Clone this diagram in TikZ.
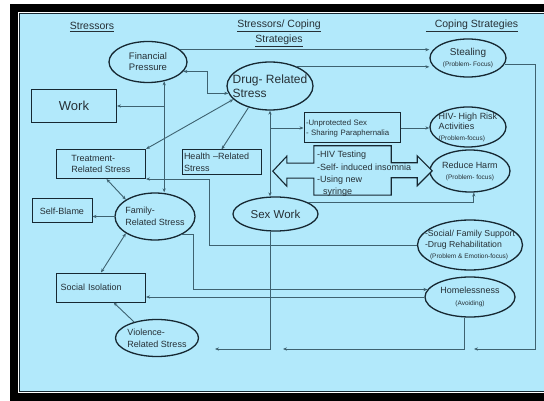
\documentclass[tikz,border=0pt]{standalone}
\usepackage{fontspec}
\setmainfont{Liberation Sans}
\usepackage{tikz}
\usetikzlibrary{calc,positioning}
\usetikzlibrary{arrows.meta}
\usetikzlibrary{shapes.geometric}
\definecolor{panel}{RGB}{178,233,251}
\definecolor{wire}{RGB}{62,98,112}
\definecolor{rim}{RGB}{22,40,50}
\definecolor{ink}{RGB}{38,48,54}
\newcommand{\fsz}[2]{\fontsize{#1}{#2}\selectfont}
\newcommand{\focus}[1]{{\fsz{6.5}{8}#1}}
\tikzset{
  % node styles (ellipses for stressors and strategies, boxes)
  % negative inner sep: the ellipse size comes from minimum width/height only
  oval/.style={ellipse,draw=rim,line width=1.3pt,fill=panel,text=ink,inner sep=-30pt,align=center},
  boxed/.style={rectangle,draw=rim,line width=1pt,fill=panel,text=ink,inner sep=2pt,align=center},
  header/.style={text=ink,inner sep=0pt,align=center,font=\fsz{10.5}{15}},
  void/.style={inner sep=0pt,minimum size=0pt},
  % connectors
  conn/.style={draw=wire,line width=0.9pt},
  dblarrow/.style={draw=rim,line width=1.1pt,fill=panel,line join=miter},
}

\begin{document}
\begin{tikzpicture}[x=1pt,y=-1pt,>={Stealth[length=4pt,width=3.2pt]}]
  \useasboundingbox (0,0) rectangle (544,401);
  \clip (0,0) rectangle (544,401);
  % frame
  \fill[white] (0,0) rectangle (544,401);
  \fill[black] (10,4) rectangle (560,410);
  \fill[white] (17.6,12) rectangle (560,393.2);
  \fill[rim] (18.8,13.4) rectangle (560,391.8);
  \fill[panel] (19.8,14.4) rectangle (560,390.8);

  \node[header] (hstress) at (92,27) {\underline{Stressors}};
  \node[header] (hboth) at (279,33.5) {\underline{Stressors/ Coping}\\\underline{Strategies}};
  \node[header] (hcope) at (472,26) {\underline{\hspace{9pt}Coping Strategies}};

  \node[oval,minimum width=78pt,minimum height=41pt,align=left,font=\fsz{9.5}{11}] (fin) at (148,62) {Financial\\Pressure};
  \node[oval,minimum width=86pt,minimum height=48pt,align=left,font=\fsz{12}{14.5}] (drug) at (270,86) {Drug- Related\\Stress};
  \node[boxed,minimum width=85pt,minimum height=33pt,font=\fsz{13}{15}] (work) at (74,106) {Work};
  \node[boxed,minimum width=89pt,minimum height=29pt,align=left,font=\fsz{9}{11.5}] (treat) at (101,164) {Treatment-\\Related Stress};
  \node[boxed,minimum width=79pt,minimum height=25pt,text width=75pt,align=left,inner sep=1pt,font=\fsz{9}{12}] (health) at (221.5,162.5) {Health --Related\\Stress};
  \node[boxed,minimum width=60pt,minimum height=24pt,font=\fsz{9}{11}] (selfb) at (62,211) {Self-Blame};
  \node[oval,minimum width=80pt,minimum height=47pt,align=left,font=\fsz{9}{12}] (family) at (155,216.5) {Family-\\Related Stress};
  \node[oval,minimum width=85pt,minimum height=34pt,font=\fsz{11.5}{13}] (sexw) at (275.5,214) {Sex Work};
  \node[boxed,minimum width=89pt,minimum height=29pt,text width=81pt,align=left,inner sep=4pt,font=\fsz{9}{11}] (isol) at (101,287.5) {Social Isolation};
  \node[oval,minimum width=83pt,minimum height=37pt,align=left,font=\fsz{9}{12}] (violence) at (157,338) {Violence-\\Related Stress};
  \node[boxed,minimum width=96pt,minimum height=30pt,text width=92pt,align=left,inner sep=1pt,font=\fsz{7.8}{10}] (unprot) at (352,128) {-Unprotected Sex\\- Sharing Paraphernalia};

  \node[oval,minimum width=76pt,minimum height=38pt,font=\fsz{10}{11}] (stealing) at (468,58) {Stealing\\\focus{(Problem- Focus)}};
  \node[oval,minimum width=76pt,minimum height=40pt,align=left,font=\fsz{9}{10.5}] (hivrisk) at (468,127) {HIV- High Risk\\Activities\\\focus{(Problem-focus)}};
  \node[oval,minimum width=80pt,minimum height=42pt,font=\fsz{9}{11}] (reduce) at (470,171) {Reduce Harm\\\focus{(Problem- focus)}};
  \node[oval,minimum width=105pt,minimum height=50pt,align=left,font=\fsz{8.7}{11}] (support) at (470,245) {-Social/ Family Support\\-Drug Rehabilitation\\\hspace{5pt}\focus{(Problem \& Emotion-focus)}};
  \node[oval,minimum width=90pt,minimum height=40pt,font=\fsz{9}{11.5}] (homeless) at (470,297) {Homelessness\\\focus{(Avoiding)}};

  \coordinate (rcorner) at (535,349);
  \coordinate (rend) at (474,349);
  \coordinate (hend) at (283,349);
  \coordinate (send) at (215,349);

  \draw[conn,->] (fin.21) -- (fin.21 -| stealing.west);
  \draw[conn,->] (drug.35) -- (drug.35 -| stealing.west);
  \draw[conn,->] (stealing.-10) -| (rcorner) -- (rend);
  \draw[conn,->] (homeless.-104) |- (hend);
  \draw[conn,->] (sexw.south -| drug.south) |- (send);
  \draw[conn,<->] (drug.south) -- (drug.south |- sexw.north);
  \draw[conn,->] (drug.south |- unprot.west) -- (unprot.west);
  \draw[conn,->] (unprot.east) -- (unprot.east -| hivrisk.west);
  \draw[conn,<->] (fin.-15) -- ++(24,0) |- (drug.190);
  \draw[conn,<->] (fin.-50) -- (fin.-50 |- family.north);
  \draw[conn,->] (fin.-50 |- work.east) -- (work.east);
  \draw[conn,<->] (treat.north east) -- (drug.200);
  \draw[conn,->] (drug.225) -- (health.north);
  \draw[conn,<->] (treat.-70) -- (family.150);
  \draw[conn,->] (family.west) -- (family.west -| selfb.east);
  \draw[conn,<->] (family.210) -- (isol.north);
  \draw[conn,->] (violence.145) -- (isol.-50);
  \draw[conn,->] (family.-35) -- ++(12,0) |- (homeless.170);
  \draw[conn,->] (homeless.west) -- (homeless.west -| isol.east);
  \draw[conn,->] (support.west) -- ++(-207,0) |- (treat.south east);
  \draw[conn,->] (sexw.20) -| (reduce.-80);

  % harm reduction box with its double arrow
  \node[void,minimum width=77pt,minimum height=49pt] (harm) at (352.5,170.5) {};
  \draw[dblarrow] (harm.north west) -- (harm.north east) -- ++(0,17) -- ++(26,0) -- ++(0,-7)
    -- ++(15,15) -- ++(-15,15) -- ++(0,-8) -- ++(-26,0) -- (harm.south east) -- (harm.south west)
    -- ++(0,-17) -- ++(-27,0) -- ++(0,8) -- ++(-14,-15) -- ++(14,-15) -- ++(0,7) -- ++(27,0) -- cycle;
  \node[text=ink,inner sep=0pt,anchor=north west,align=left,font=\fsz{9}{12.3}] (harmtxt) at (317,151)
    {-HIV Testing\\-Self- induced insomnia\\-Using new\\\hspace{6pt}syringe};
\end{tikzpicture}
\end{document}
